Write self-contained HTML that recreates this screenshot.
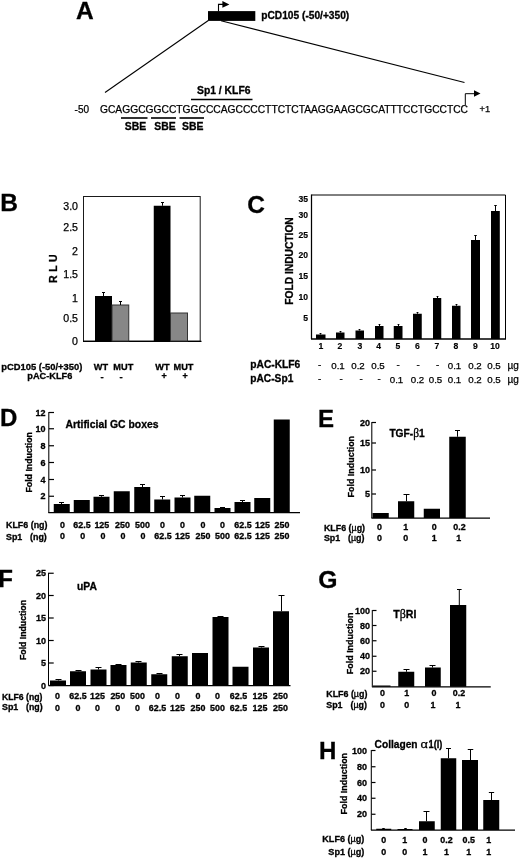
<!DOCTYPE html>
<html><head><meta charset="utf-8"><title>Figure</title>
<style>
html,body{margin:0;padding:0;background:#fff;}
body{width:520px;height:858px;overflow:hidden;}
svg{display:block;}
svg text{font-family:"Liberation Sans",Arial,sans-serif;fill:#000;stroke:#000;stroke-width:0.25px;}
svg text[font-weight=bold]{stroke-width:0.3px;}
</style></head><body>
<svg width="520" height="858" viewBox="0 0 520 858">
<rect width="520" height="858" fill="#fff"/>
<text transform="translate(76,18.6) scale(1.0,1)" font-size="24.5" font-weight="bold" text-anchor="start">A</text>
<rect x="208" y="11.1" width="47.3" height="9.8" fill="#000"/>
<path d="M218.5 11.5 V4.4 H223" fill="none" stroke="#000" stroke-width="1.1"/>
<path d="M222.4 1 L229.4 4.4 L222.4 7.8 Z" fill="#000"/>
<text x="261.25" y="19" font-size="10.2" font-weight="bold" text-anchor="start" textLength="88" lengthAdjust="spacingAndGlyphs">pCD105 (-50/+350)</text>
<line x1="208.3" y1="20.5" x2="105" y2="92.5" stroke="#000" stroke-width="1.1"/>
<line x1="221" y1="20.7" x2="464.5" y2="82.5" stroke="#000" stroke-width="1.1"/>
<text transform="translate(74.6,113.2) scale(1.0,1)" font-size="10"  text-anchor="start">-50</text>
<text x="100" y="113.1" font-size="10.25"  text-anchor="start" textLength="368" lengthAdjust="spacingAndGlyphs">GCAGGCGGCCTGGCCCAGCCCCTTCTCTAAGGAAGCGCATTTCCTGCCTCC</text>
<text transform="translate(479.6,112.4) scale(1.0,1)" font-size="9.3"  text-anchor="start">+1</text>
<path d="M465.3 105 V93.7 H475" fill="none" stroke="#000" stroke-width="1"/>
<path d="M474 90.2 L480.5 93.5 L474 96.8 Z" fill="#000"/>
<text x="197" y="94" font-size="10.3" font-weight="bold" text-anchor="start" textLength="53.5" lengthAdjust="spacingAndGlyphs">Sp1 / KLF6</text>
<line x1="191" y1="99.5" x2="252.5" y2="99.5" stroke="#000" stroke-width="1.6"/>
<line x1="121" y1="118" x2="147.5" y2="118" stroke="#000" stroke-width="1.6"/>
<line x1="151" y1="118" x2="176" y2="118" stroke="#000" stroke-width="1.6"/>
<line x1="179.5" y1="118" x2="204" y2="118" stroke="#000" stroke-width="1.6"/>
<text transform="translate(135.5,129.7) scale(1.0,1)" font-size="10.4" font-weight="bold" text-anchor="middle">SBE</text>
<text transform="translate(165,129.7) scale(1.0,1)" font-size="10.4" font-weight="bold" text-anchor="middle">SBE</text>
<text transform="translate(192.8,129.7) scale(1.0,1)" font-size="10.4" font-weight="bold" text-anchor="middle">SBE</text>
<text transform="translate(0.3,211.3) scale(1.0,1)" font-size="24.5" font-weight="bold" text-anchor="start">B</text>
<rect x="83.5" y="196.5" width="116.7" height="144.7" fill="none" stroke="#1a1a1a" stroke-width="1.0"/>
<line x1="83" y1="341.3" x2="201.5" y2="341.3" stroke="#000" stroke-width="1.3"/>
<text transform="translate(78,209.5) scale(1.0,1)" font-size="10.6"  text-anchor="end">3.0</text>
<text transform="translate(78,230.5) scale(1.0,1)" font-size="10.6"  text-anchor="end">2.5</text>
<text transform="translate(78,255) scale(1.0,1)" font-size="10.6"  text-anchor="end">2</text>
<text transform="translate(78,278) scale(1.0,1)" font-size="10.6"  text-anchor="end">1.5</text>
<text transform="translate(78,301.5) scale(1.0,1)" font-size="10.6"  text-anchor="end">1</text>
<text transform="translate(78,321.5) scale(1.0,1)" font-size="10.6"  text-anchor="end">0.5</text>
<text transform="translate(78,344.5) scale(1.0,1)" font-size="10.6"  text-anchor="end">0</text>
<text transform="translate(57.3,268.7) rotate(-90)" font-size="10.5" font-weight="bold" text-anchor="middle" textLength="28.5" lengthAdjust="spacing">R L U</text>
<rect x="95" y="296" width="17" height="45" fill="#000"/>
<line x1="103.5" y1="296" x2="103.5" y2="292.0" stroke="#000" stroke-width="1"/>
<line x1="102.0" y1="292.5" x2="105.0" y2="292.5" stroke="#000" stroke-width="1"/>
<rect x="112" y="305" width="16.75" height="36" fill="#878787" stroke="#333" stroke-width="1"/>
<line x1="120.5" y1="305" x2="120.5" y2="301.0" stroke="#000" stroke-width="1"/>
<line x1="119.0" y1="301.5" x2="122.0" y2="301.5" stroke="#000" stroke-width="1"/>
<rect x="153.75" y="205.75" width="16.75" height="135.25" fill="#000"/>
<line x1="162.5" y1="205.75" x2="162.5" y2="202.0" stroke="#000" stroke-width="1"/>
<line x1="161.0" y1="202.5" x2="164.0" y2="202.5" stroke="#000" stroke-width="1"/>
<rect x="170.5" y="313" width="17.0" height="28" fill="#878787" stroke="#333" stroke-width="1"/>
<text x="1.3" y="369.7" font-size="9.4" font-weight="bold" text-anchor="start" textLength="81" lengthAdjust="spacingAndGlyphs">pCD105 (-50/+350)</text>
<text x="27.3" y="379.2" font-size="9.4" font-weight="bold" text-anchor="start" textLength="45" lengthAdjust="spacingAndGlyphs">pAC-KLF6</text>
<text transform="translate(101,369.6) scale(1.0,1)" font-size="9.2" font-weight="bold" text-anchor="middle">WT</text>
<text transform="translate(123.3,369.6) scale(1.0,1)" font-size="9.2" font-weight="bold" text-anchor="middle">MUT</text>
<text transform="translate(162.5,369.6) scale(1.0,1)" font-size="9.2" font-weight="bold" text-anchor="middle">WT</text>
<text transform="translate(183.5,369.6) scale(1.0,1)" font-size="9.2" font-weight="bold" text-anchor="middle">MUT</text>
<text transform="translate(102,379.8) scale(1.0,1)" font-size="9.5" font-weight="bold" text-anchor="middle">-</text>
<text transform="translate(121,379.8) scale(1.0,1)" font-size="9.5" font-weight="bold" text-anchor="middle">-</text>
<text transform="translate(164,379.3) scale(1.0,1)" font-size="9" font-weight="bold" text-anchor="middle">+</text>
<text transform="translate(185,379.3) scale(1.0,1)" font-size="9" font-weight="bold" text-anchor="middle">+</text>
<text transform="translate(247.3,213) scale(1.0,1)" font-size="24.5" font-weight="bold" text-anchor="start">C</text>
<path d="M311.5 195 H505.5 V339" fill="none" stroke="#000" stroke-width="1"/>
<line x1="311.5" y1="194.5" x2="311.5" y2="339" stroke="#000" stroke-width="1.25"/>
<line x1="311" y1="339" x2="506" y2="339" stroke="#000" stroke-width="1.35"/>
<text transform="translate(308,202) scale(1.0,1)" font-size="8.6" font-weight="bold" style="stroke-width:0.15px" text-anchor="end">35</text>
<text transform="translate(308,217.5) scale(1.0,1)" font-size="8.6" font-weight="bold" style="stroke-width:0.15px" text-anchor="end">30</text>
<text transform="translate(308,238) scale(1.0,1)" font-size="8.6" font-weight="bold" style="stroke-width:0.15px" text-anchor="end">25</text>
<text transform="translate(308,258) scale(1.0,1)" font-size="8.6" font-weight="bold" style="stroke-width:0.15px" text-anchor="end">20</text>
<text transform="translate(308,279) scale(1.0,1)" font-size="8.6" font-weight="bold" style="stroke-width:0.15px" text-anchor="end">15</text>
<text transform="translate(308,300) scale(1.0,1)" font-size="8.6" font-weight="bold" style="stroke-width:0.15px" text-anchor="end">10</text>
<text transform="translate(308,320.5) scale(1.0,1)" font-size="8.6" font-weight="bold" style="stroke-width:0.15px" text-anchor="end">5</text>
<text transform="translate(293,261) rotate(-90)" font-size="10" font-weight="bold" text-anchor="middle" textLength="87.5" lengthAdjust="spacingAndGlyphs">FOLD INDUCTION</text>
<rect x="316" y="334.5" width="9.5" height="4.5" fill="#000"/>
<line x1="320.5" y1="334.5" x2="320.5" y2="333.0" stroke="#000" stroke-width="1"/>
<line x1="319.6" y1="333.5" x2="321.4" y2="333.5" stroke="#000" stroke-width="1"/>
<rect x="336" y="332.5" width="8.5" height="6.5" fill="#000"/>
<line x1="340.5" y1="332.5" x2="340.5" y2="331.0" stroke="#000" stroke-width="1"/>
<line x1="339.6" y1="331.5" x2="341.4" y2="331.5" stroke="#000" stroke-width="1"/>
<rect x="355.5" y="330.5" width="8.5" height="8.5" fill="#000"/>
<line x1="359.5" y1="330.5" x2="359.5" y2="329.0" stroke="#000" stroke-width="1"/>
<line x1="358.6" y1="329.5" x2="360.4" y2="329.5" stroke="#000" stroke-width="1"/>
<rect x="375" y="326" width="8.5" height="13" fill="#000"/>
<line x1="379.5" y1="326" x2="379.5" y2="324.0" stroke="#000" stroke-width="1"/>
<line x1="378.6" y1="324.5" x2="380.4" y2="324.5" stroke="#000" stroke-width="1"/>
<rect x="393.75" y="326" width="8.75" height="13" fill="#000"/>
<line x1="398.5" y1="326" x2="398.5" y2="324.0" stroke="#000" stroke-width="1"/>
<line x1="397.6" y1="324.5" x2="399.4" y2="324.5" stroke="#000" stroke-width="1"/>
<rect x="413" y="313.75" width="8.75" height="25.25" fill="#000"/>
<line x1="417.5" y1="313.75" x2="417.5" y2="312.0" stroke="#000" stroke-width="1"/>
<line x1="416.6" y1="312.5" x2="418.4" y2="312.5" stroke="#000" stroke-width="1"/>
<rect x="433" y="298" width="8.25" height="41" fill="#000"/>
<line x1="437.5" y1="298" x2="437.5" y2="296.0" stroke="#000" stroke-width="1"/>
<line x1="436.6" y1="296.5" x2="438.4" y2="296.5" stroke="#000" stroke-width="1"/>
<rect x="452" y="305.75" width="8.5" height="33.25" fill="#000"/>
<line x1="456.5" y1="305.75" x2="456.5" y2="304.0" stroke="#000" stroke-width="1"/>
<line x1="455.6" y1="304.5" x2="457.4" y2="304.5" stroke="#000" stroke-width="1"/>
<rect x="471" y="240" width="9" height="99" fill="#000"/>
<line x1="475.5" y1="240" x2="475.5" y2="235.0" stroke="#000" stroke-width="1"/>
<line x1="474.25" y1="235.5" x2="476.75" y2="235.5" stroke="#000" stroke-width="1"/>
<rect x="491" y="211" width="8.800000000000011" height="128" fill="#000"/>
<line x1="495.5" y1="211" x2="495.5" y2="205.0" stroke="#000" stroke-width="1"/>
<line x1="494.25" y1="205.5" x2="496.75" y2="205.5" stroke="#000" stroke-width="1"/>
<text transform="translate(321,349.4) scale(1.0,1)" font-size="8.6" font-weight="bold" style="stroke-width:0.15px" text-anchor="middle">1</text>
<text transform="translate(340,349.4) scale(1.0,1)" font-size="8.6" font-weight="bold" style="stroke-width:0.15px" text-anchor="middle">2</text>
<text transform="translate(360,349.4) scale(1.0,1)" font-size="8.6" font-weight="bold" style="stroke-width:0.15px" text-anchor="middle">3</text>
<text transform="translate(378.75,349.4) scale(1.0,1)" font-size="8.6" font-weight="bold" style="stroke-width:0.15px" text-anchor="middle">4</text>
<text transform="translate(398,349.4) scale(1.0,1)" font-size="8.6" font-weight="bold" style="stroke-width:0.15px" text-anchor="middle">5</text>
<text transform="translate(417.5,349.4) scale(1.0,1)" font-size="8.6" font-weight="bold" style="stroke-width:0.15px" text-anchor="middle">6</text>
<text transform="translate(437,349.4) scale(1.0,1)" font-size="8.6" font-weight="bold" style="stroke-width:0.15px" text-anchor="middle">7</text>
<text transform="translate(456,349.4) scale(1.0,1)" font-size="8.6" font-weight="bold" style="stroke-width:0.15px" text-anchor="middle">8</text>
<text transform="translate(475.5,349.4) scale(1.0,1)" font-size="8.6" font-weight="bold" style="stroke-width:0.15px" text-anchor="middle">9</text>
<text transform="translate(495,349.4) scale(1.0,1)" font-size="8.6" font-weight="bold" style="stroke-width:0.15px" text-anchor="middle">10</text>
<text x="250.3" y="367.8" font-size="10.1" font-weight="bold" text-anchor="start" textLength="50" lengthAdjust="spacingAndGlyphs">pAC-KLF6</text>
<text x="250.3" y="381.7" font-size="10.1" font-weight="bold" text-anchor="start" textLength="43" lengthAdjust="spacingAndGlyphs">pAC-Sp1</text>
<text transform="translate(319.5,368.2) scale(1.0,1)" font-size="9.7"  text-anchor="middle">-</text>
<text transform="translate(338,368.75) scale(1.0,1)" font-size="9.7"  text-anchor="middle">0.1</text>
<text transform="translate(358,368.75) scale(1.0,1)" font-size="9.7"  text-anchor="middle">0.2</text>
<text transform="translate(378,368.75) scale(1.0,1)" font-size="9.7"  text-anchor="middle">0.5</text>
<text transform="translate(398,368.2) scale(1.0,1)" font-size="9.7"  text-anchor="middle">-</text>
<text transform="translate(418,368.2) scale(1.0,1)" font-size="9.7"  text-anchor="middle">-</text>
<text transform="translate(437.5,368.2) scale(1.0,1)" font-size="9.7"  text-anchor="middle">-</text>
<text transform="translate(454.5,368.75) scale(1.0,1)" font-size="9.7"  text-anchor="middle">0.1</text>
<text transform="translate(475,368.75) scale(1.0,1)" font-size="9.7"  text-anchor="middle">0.2</text>
<text transform="translate(494,368.75) scale(1.0,1)" font-size="9.7"  text-anchor="middle">0.5</text>
<text transform="translate(319.5,381.9) scale(1.0,1)" font-size="9.7"  text-anchor="middle">-</text>
<text transform="translate(341,381.9) scale(1.0,1)" font-size="9.7"  text-anchor="middle">-</text>
<text transform="translate(361,381.9) scale(1.0,1)" font-size="9.7"  text-anchor="middle">-</text>
<text transform="translate(379,381.9) scale(1.0,1)" font-size="9.7"  text-anchor="middle">-</text>
<text transform="translate(396.5,382.5) scale(1.0,1)" font-size="9.7"  text-anchor="middle">0.1</text>
<text transform="translate(417.5,382.5) scale(1.0,1)" font-size="9.7"  text-anchor="middle">0.2</text>
<text transform="translate(435.5,382.5) scale(1.0,1)" font-size="9.7"  text-anchor="middle">0.5</text>
<text transform="translate(454.5,382.5) scale(1.0,1)" font-size="9.7"  text-anchor="middle">0.1</text>
<text transform="translate(475,382.5) scale(1.0,1)" font-size="9.7"  text-anchor="middle">0.2</text>
<text transform="translate(494,382.5) scale(1.0,1)" font-size="9.7"  text-anchor="middle">0.5</text>
<text transform="translate(507.5,368.75) scale(1.0,1)" font-size="10"  text-anchor="start">µg</text>
<text transform="translate(507.5,382.5) scale(1.0,1)" font-size="10"  text-anchor="start">µg</text>
<text transform="translate(-0.1,426.3) scale(1.0,1)" font-size="24" font-weight="bold" text-anchor="start">D</text>
<line x1="48.8" y1="412.0" x2="48.8" y2="513" stroke="#000" stroke-width="1.05"/>
<line x1="49" y1="412.5" x2="54" y2="412.5" stroke="#000" stroke-width="1.2"/>
<text transform="translate(45.5,415.5) scale(1.0,1)" font-size="9" font-weight="bold" text-anchor="end">12</text>
<line x1="49" y1="428.75" x2="54" y2="428.75" stroke="#000" stroke-width="1.2"/>
<text transform="translate(45.5,431.75) scale(1.0,1)" font-size="9" font-weight="bold" text-anchor="end">10</text>
<line x1="49" y1="445.75" x2="54" y2="445.75" stroke="#000" stroke-width="1.2"/>
<text transform="translate(45.5,448.75) scale(1.0,1)" font-size="9" font-weight="bold" text-anchor="end">8</text>
<line x1="49" y1="462.5" x2="54" y2="462.5" stroke="#000" stroke-width="1.2"/>
<text transform="translate(45.5,465.5) scale(1.0,1)" font-size="9" font-weight="bold" text-anchor="end">6</text>
<line x1="49" y1="479.5" x2="54" y2="479.5" stroke="#000" stroke-width="1.2"/>
<text transform="translate(45.5,482.5) scale(1.0,1)" font-size="9" font-weight="bold" text-anchor="end">4</text>
<line x1="49" y1="496.25" x2="54" y2="496.25" stroke="#000" stroke-width="1.2"/>
<text transform="translate(45.5,499.25) scale(1.0,1)" font-size="9" font-weight="bold" text-anchor="end">2</text>
<line x1="48.4" y1="512.7" x2="300" y2="512.7" stroke="#000" stroke-width="1.25"/>
<text transform="translate(31.8,462.3) rotate(-90)" font-size="8.8" font-weight="bold" text-anchor="middle" textLength="60.5" lengthAdjust="spacingAndGlyphs">Fold Induction</text>
<text x="65.5" y="427.5" font-size="10.4" font-weight="bold" text-anchor="start" textLength="93" lengthAdjust="spacingAndGlyphs">Artificial GC boxes</text>
<rect x="53.75" y="504" width="16.0" height="9" fill="#000"/>
<line x1="61.5" y1="504" x2="61.5" y2="502.0" stroke="#000" stroke-width="1"/>
<line x1="59.0" y1="502.5" x2="64.0" y2="502.5" stroke="#000" stroke-width="1"/>
<rect x="73.75" y="500" width="16.0" height="13" fill="#000"/>
<rect x="93.5" y="496.75" width="16.0" height="16.25" fill="#000"/>
<line x1="101.5" y1="496.75" x2="101.5" y2="495.0" stroke="#000" stroke-width="1"/>
<line x1="99.0" y1="495.5" x2="104.0" y2="495.5" stroke="#000" stroke-width="1"/>
<rect x="113.75" y="491.25" width="16.0" height="21.75" fill="#000"/>
<rect x="134.25" y="487" width="16.0" height="26" fill="#000"/>
<line x1="142.5" y1="487" x2="142.5" y2="484.0" stroke="#000" stroke-width="1"/>
<line x1="140.0" y1="484.5" x2="145.0" y2="484.5" stroke="#000" stroke-width="1"/>
<rect x="154.25" y="499.5" width="16.0" height="13.5" fill="#000"/>
<line x1="162.5" y1="499.5" x2="162.5" y2="496.0" stroke="#000" stroke-width="1"/>
<line x1="160.0" y1="496.5" x2="165.0" y2="496.5" stroke="#000" stroke-width="1"/>
<rect x="174.5" y="497.5" width="16.0" height="15.5" fill="#000"/>
<line x1="182.5" y1="497.5" x2="182.5" y2="495.0" stroke="#000" stroke-width="1"/>
<line x1="180.0" y1="495.5" x2="185.0" y2="495.5" stroke="#000" stroke-width="1"/>
<rect x="194.25" y="495.75" width="16.0" height="17.25" fill="#000"/>
<rect x="214.5" y="508" width="16.0" height="5" fill="#000"/>
<line x1="222.5" y1="508" x2="222.5" y2="507.0" stroke="#000" stroke-width="1"/>
<line x1="220.0" y1="507.5" x2="225.0" y2="507.5" stroke="#000" stroke-width="1"/>
<rect x="234.5" y="502" width="16.0" height="11" fill="#000"/>
<line x1="242.5" y1="502" x2="242.5" y2="500.0" stroke="#000" stroke-width="1"/>
<line x1="240.0" y1="500.5" x2="245.0" y2="500.5" stroke="#000" stroke-width="1"/>
<rect x="254.25" y="498" width="16.0" height="15" fill="#000"/>
<rect x="273.75" y="419.5" width="16.0" height="93.5" fill="#000"/>
<text x="6" y="528.3" font-size="8.9" font-weight="bold" text-anchor="start" textLength="41.5" lengthAdjust="spacingAndGlyphs">KLF6 (ng)</text>
<text transform="translate(6,539.6) scale(1.0,1)" font-size="8.9" font-weight="bold" text-anchor="start">Sp1</text>
<text transform="translate(30,539.6) scale(1.0,1)" font-size="8.9" font-weight="bold" text-anchor="start">(ng)</text>
<text transform="translate(62.5,527.8) scale(1.0,1)" font-size="8.9" font-weight="bold" text-anchor="middle">0</text>
<text transform="translate(62.5,539.4) scale(1.0,1)" font-size="8.9" font-weight="bold" text-anchor="middle">0</text>
<text transform="translate(82,527.8) scale(1.0,1)" font-size="8.9" font-weight="bold" text-anchor="middle">62.5</text>
<text transform="translate(82.7,539.4) scale(1.0,1)" font-size="8.9" font-weight="bold" text-anchor="middle">0</text>
<text transform="translate(101.8,527.8) scale(1.0,1)" font-size="8.9" font-weight="bold" text-anchor="middle">125</text>
<text transform="translate(103,539.4) scale(1.0,1)" font-size="8.9" font-weight="bold" text-anchor="middle">0</text>
<text transform="translate(122.5,527.8) scale(1.0,1)" font-size="8.9" font-weight="bold" text-anchor="middle">250</text>
<text transform="translate(123,539.4) scale(1.0,1)" font-size="8.9" font-weight="bold" text-anchor="middle">0</text>
<text transform="translate(142.5,527.8) scale(1.0,1)" font-size="8.9" font-weight="bold" text-anchor="middle">500</text>
<text transform="translate(143,539.4) scale(1.0,1)" font-size="8.9" font-weight="bold" text-anchor="middle">0</text>
<text transform="translate(162.5,527.8) scale(1.0,1)" font-size="8.9" font-weight="bold" text-anchor="middle">0</text>
<text transform="translate(163,539.4) scale(1.0,1)" font-size="8.9" font-weight="bold" text-anchor="middle">62.5</text>
<text transform="translate(182.5,527.8) scale(1.0,1)" font-size="8.9" font-weight="bold" text-anchor="middle">0</text>
<text transform="translate(182.5,539.4) scale(1.0,1)" font-size="8.9" font-weight="bold" text-anchor="middle">125</text>
<text transform="translate(203,527.8) scale(1.0,1)" font-size="8.9" font-weight="bold" text-anchor="middle">0</text>
<text transform="translate(203,539.4) scale(1.0,1)" font-size="8.9" font-weight="bold" text-anchor="middle">250</text>
<text transform="translate(222.5,527.8) scale(1.0,1)" font-size="8.9" font-weight="bold" text-anchor="middle">0</text>
<text transform="translate(222.5,539.4) scale(1.0,1)" font-size="8.9" font-weight="bold" text-anchor="middle">500</text>
<text transform="translate(243,527.8) scale(1.0,1)" font-size="8.9" font-weight="bold" text-anchor="middle">62.5</text>
<text transform="translate(243,539.4) scale(1.0,1)" font-size="8.9" font-weight="bold" text-anchor="middle">62.5</text>
<text transform="translate(262.5,527.8) scale(1.0,1)" font-size="8.9" font-weight="bold" text-anchor="middle">125</text>
<text transform="translate(262.5,539.4) scale(1.0,1)" font-size="8.9" font-weight="bold" text-anchor="middle">125</text>
<text transform="translate(282,527.8) scale(1.0,1)" font-size="8.9" font-weight="bold" text-anchor="middle">250</text>
<text transform="translate(282,539.4) scale(1.0,1)" font-size="8.9" font-weight="bold" text-anchor="middle">250</text>
<text transform="translate(318,426.6) scale(1.0,1)" font-size="24" font-weight="bold" text-anchor="start">E</text>
<line x1="371.8" y1="422.0" x2="371.8" y2="518" stroke="#000" stroke-width="1.05"/>
<line x1="372" y1="422.5" x2="376" y2="422.5" stroke="#000" stroke-width="1.2"/>
<text transform="translate(370,425.5) scale(1.0,1)" font-size="9" font-weight="bold" text-anchor="end">20</text>
<line x1="372" y1="443" x2="376" y2="443" stroke="#000" stroke-width="1.2"/>
<text transform="translate(370,446) scale(1.0,1)" font-size="9" font-weight="bold" text-anchor="end">15</text>
<line x1="372" y1="470" x2="376" y2="470" stroke="#000" stroke-width="1.2"/>
<text transform="translate(370,473) scale(1.0,1)" font-size="9" font-weight="bold" text-anchor="end">10</text>
<line x1="372" y1="494" x2="376" y2="494" stroke="#000" stroke-width="1.2"/>
<text transform="translate(370,497) scale(1.0,1)" font-size="9" font-weight="bold" text-anchor="end">5</text>
<line x1="371.4" y1="518" x2="490" y2="518" stroke="#000" stroke-width="1.25"/>
<text transform="translate(353.8,466.7) rotate(-90)" font-size="9" font-weight="bold" text-anchor="middle" textLength="61.5" lengthAdjust="spacingAndGlyphs">Fold Induction</text>
<text transform="translate(389.4,436.7) scale(1.0,1)" font-size="10.2" font-weight="bold" text-anchor="start">TGF-<tspan font-family="Liberation Serif, DejaVu Serif, serif" font-weight="normal" font-size="11.5">β</tspan>1</text>
<rect x="372.5" y="513" width="16.25" height="5" fill="#000"/>
<rect x="398" y="501.25" width="16.25" height="16.75" fill="#000"/>
<line x1="406.5" y1="501.25" x2="406.5" y2="494.0" stroke="#000" stroke-width="1"/>
<line x1="403.5" y1="494.5" x2="409.5" y2="494.5" stroke="#000" stroke-width="1"/>
<rect x="423.75" y="508.75" width="16.25" height="9.25" fill="#000"/>
<rect x="449.25" y="436.75" width="16.5" height="81.25" fill="#000"/>
<line x1="457.5" y1="436.75" x2="457.5" y2="430.0" stroke="#000" stroke-width="1"/>
<line x1="455.0" y1="430.5" x2="460.0" y2="430.5" stroke="#000" stroke-width="1"/>
<text transform="translate(323.9,530.5) scale(1.0,1)" font-size="8.9" font-weight="bold" text-anchor="start">KLF6 (<tspan font-weight="normal">µ</tspan>g)</text>
<text transform="translate(323.9,540.5) scale(1.0,1)" font-size="8.9" font-weight="bold" text-anchor="start">Sp1</text>
<text transform="translate(348,540.5) scale(1.0,1)" font-size="8.9" font-weight="bold" text-anchor="start">(<tspan font-weight="normal">µ</tspan>g)</text>
<text transform="translate(379.5,530) scale(1.0,1)" font-size="8.9" font-weight="bold" text-anchor="middle">0</text>
<text transform="translate(379.5,540.5) scale(1.0,1)" font-size="8.9" font-weight="bold" text-anchor="middle">0</text>
<text transform="translate(405.75,530) scale(1.0,1)" font-size="8.9" font-weight="bold" text-anchor="middle">1</text>
<text transform="translate(405.75,540.5) scale(1.0,1)" font-size="8.9" font-weight="bold" text-anchor="middle">0</text>
<text transform="translate(434.25,530) scale(1.0,1)" font-size="8.9" font-weight="bold" text-anchor="middle">0</text>
<text transform="translate(434.25,540.5) scale(1.0,1)" font-size="8.9" font-weight="bold" text-anchor="middle">1</text>
<text transform="translate(459.5,530) scale(1.0,1)" font-size="8.9" font-weight="bold" text-anchor="middle">0.2</text>
<text transform="translate(458.75,540.5) scale(1.0,1)" font-size="8.9" font-weight="bold" text-anchor="middle">1</text>
<text transform="translate(-1.8,587) scale(1.0,1)" font-size="24" font-weight="bold" text-anchor="start">F</text>
<line x1="48.5" y1="572.75" x2="48.5" y2="685.5" stroke="#000" stroke-width="1.05"/>
<line x1="48.7" y1="573.25" x2="53.7" y2="573.25" stroke="#000" stroke-width="1.2"/>
<text transform="translate(46,576.25) scale(1.0,1)" font-size="9" font-weight="bold" text-anchor="end">25</text>
<line x1="48.7" y1="595.5" x2="53.7" y2="595.5" stroke="#000" stroke-width="1.2"/>
<text transform="translate(46,598.5) scale(1.0,1)" font-size="9" font-weight="bold" text-anchor="end">20</text>
<line x1="48.7" y1="618" x2="53.7" y2="618" stroke="#000" stroke-width="1.2"/>
<text transform="translate(46,621) scale(1.0,1)" font-size="9" font-weight="bold" text-anchor="end">15</text>
<line x1="48.7" y1="640.5" x2="53.7" y2="640.5" stroke="#000" stroke-width="1.2"/>
<text transform="translate(46,643.5) scale(1.0,1)" font-size="9" font-weight="bold" text-anchor="end">10</text>
<line x1="48.7" y1="663" x2="53.7" y2="663" stroke="#000" stroke-width="1.2"/>
<text transform="translate(46,666) scale(1.0,1)" font-size="9" font-weight="bold" text-anchor="end">5</text>
<line x1="48.7" y1="685.5" x2="53.7" y2="685.5" stroke="#000" stroke-width="1.2"/>
<text transform="translate(46,688.5) scale(1.0,1)" font-size="9" font-weight="bold" text-anchor="end">0</text>
<line x1="48.4" y1="685.6" x2="290.5" y2="685.6" stroke="#000" stroke-width="1.25"/>
<text transform="translate(26.4,630) rotate(-90)" font-size="8.8" font-weight="bold" text-anchor="middle" textLength="60" lengthAdjust="spacingAndGlyphs">Fold Induction</text>
<text transform="translate(77,589.5) scale(1.0,1)" font-size="10.3" font-weight="bold" text-anchor="start">uPA</text>
<rect x="50" y="680.5" width="16" height="5.0" fill="#000"/>
<line x1="58.5" y1="680.5" x2="58.5" y2="679.0" stroke="#000" stroke-width="1"/>
<line x1="55.5" y1="679.5" x2="61.5" y2="679.5" stroke="#000" stroke-width="1"/>
<rect x="70" y="671.25" width="16" height="14.25" fill="#000"/>
<line x1="78.5" y1="671.25" x2="78.5" y2="670.0" stroke="#000" stroke-width="1"/>
<line x1="75.5" y1="670.5" x2="81.5" y2="670.5" stroke="#000" stroke-width="1"/>
<rect x="90.5" y="669.5" width="16.0" height="16.0" fill="#000"/>
<line x1="98.5" y1="669.5" x2="98.5" y2="667.0" stroke="#000" stroke-width="1"/>
<line x1="95.5" y1="667.5" x2="101.5" y2="667.5" stroke="#000" stroke-width="1"/>
<rect x="110.5" y="665" width="16.0" height="20.5" fill="#000"/>
<line x1="118.5" y1="665" x2="118.5" y2="664.0" stroke="#000" stroke-width="1"/>
<line x1="115.5" y1="664.5" x2="121.5" y2="664.5" stroke="#000" stroke-width="1"/>
<rect x="130.75" y="662.5" width="16.0" height="23.0" fill="#000"/>
<line x1="138.5" y1="662.5" x2="138.5" y2="661.0" stroke="#000" stroke-width="1"/>
<line x1="135.5" y1="661.5" x2="141.5" y2="661.5" stroke="#000" stroke-width="1"/>
<rect x="151.25" y="674.25" width="16.0" height="11.25" fill="#000"/>
<line x1="159.5" y1="674.25" x2="159.5" y2="673.0" stroke="#000" stroke-width="1"/>
<line x1="156.5" y1="673.5" x2="162.5" y2="673.5" stroke="#000" stroke-width="1"/>
<rect x="171.75" y="656.25" width="16.0" height="29.25" fill="#000"/>
<line x1="179.5" y1="656.25" x2="179.5" y2="654.0" stroke="#000" stroke-width="1"/>
<line x1="176.5" y1="654.5" x2="182.5" y2="654.5" stroke="#000" stroke-width="1"/>
<rect x="192" y="653" width="16" height="32.5" fill="#000"/>
<rect x="212.5" y="617" width="16.0" height="68.5" fill="#000"/>
<line x1="220.5" y1="617" x2="220.5" y2="616.0" stroke="#000" stroke-width="1"/>
<line x1="217.5" y1="616.5" x2="223.5" y2="616.5" stroke="#000" stroke-width="1"/>
<rect x="232.5" y="666.75" width="16.0" height="18.75" fill="#000"/>
<rect x="253" y="647.5" width="16" height="38.0" fill="#000"/>
<line x1="261.5" y1="647.5" x2="261.5" y2="646.0" stroke="#000" stroke-width="1"/>
<line x1="258.5" y1="646.5" x2="264.5" y2="646.5" stroke="#000" stroke-width="1"/>
<rect x="273" y="611.25" width="16" height="74.25" fill="#000"/>
<line x1="281.5" y1="611.25" x2="281.5" y2="595.0" stroke="#000" stroke-width="1"/>
<line x1="278.5" y1="595.5" x2="284.5" y2="595.5" stroke="#000" stroke-width="1"/>
<text x="2" y="700" font-size="8.8" font-weight="bold" text-anchor="start" textLength="40.5" lengthAdjust="spacingAndGlyphs">KLF6 (ng)</text>
<text transform="translate(2,710.2) scale(1.0,1)" font-size="8.9" font-weight="bold" text-anchor="start">Sp1</text>
<text transform="translate(26,710.2) scale(1.0,1)" font-size="8.8" font-weight="bold" text-anchor="start">(ng)</text>
<text transform="translate(57.5,699.2) scale(1.0,1)" font-size="8.9" font-weight="bold" text-anchor="middle">0</text>
<text transform="translate(57.5,710.6) scale(1.0,1)" font-size="8.9" font-weight="bold" text-anchor="middle">0</text>
<text transform="translate(78,699.2) scale(1.0,1)" font-size="8.9" font-weight="bold" text-anchor="middle">62.5</text>
<text transform="translate(78,710.6) scale(1.0,1)" font-size="8.9" font-weight="bold" text-anchor="middle">0</text>
<text transform="translate(97.5,699.2) scale(1.0,1)" font-size="8.9" font-weight="bold" text-anchor="middle">125</text>
<text transform="translate(97.5,710.6) scale(1.0,1)" font-size="8.9" font-weight="bold" text-anchor="middle">0</text>
<text transform="translate(117.8,699.2) scale(1.0,1)" font-size="8.9" font-weight="bold" text-anchor="middle">250</text>
<text transform="translate(117.8,710.6) scale(1.0,1)" font-size="8.9" font-weight="bold" text-anchor="middle">0</text>
<text transform="translate(137.5,699.2) scale(1.0,1)" font-size="8.9" font-weight="bold" text-anchor="middle">500</text>
<text transform="translate(137.5,710.6) scale(1.0,1)" font-size="8.9" font-weight="bold" text-anchor="middle">0</text>
<text transform="translate(157.5,699.2) scale(1.0,1)" font-size="8.9" font-weight="bold" text-anchor="middle">0</text>
<text transform="translate(157.5,710.6) scale(1.0,1)" font-size="8.9" font-weight="bold" text-anchor="middle">62.5</text>
<text transform="translate(177.5,699.2) scale(1.0,1)" font-size="8.9" font-weight="bold" text-anchor="middle">0</text>
<text transform="translate(177.5,710.6) scale(1.0,1)" font-size="8.9" font-weight="bold" text-anchor="middle">125</text>
<text transform="translate(198,699.2) scale(1.0,1)" font-size="8.9" font-weight="bold" text-anchor="middle">0</text>
<text transform="translate(198,710.6) scale(1.0,1)" font-size="8.9" font-weight="bold" text-anchor="middle">250</text>
<text transform="translate(217.5,699.2) scale(1.0,1)" font-size="8.9" font-weight="bold" text-anchor="middle">0</text>
<text transform="translate(217.5,710.6) scale(1.0,1)" font-size="8.9" font-weight="bold" text-anchor="middle">500</text>
<text transform="translate(238.5,699.2) scale(1.0,1)" font-size="8.9" font-weight="bold" text-anchor="middle">62.5</text>
<text transform="translate(238.5,710.6) scale(1.0,1)" font-size="8.9" font-weight="bold" text-anchor="middle">62.5</text>
<text transform="translate(260,699.2) scale(1.0,1)" font-size="8.9" font-weight="bold" text-anchor="middle">125</text>
<text transform="translate(260,710.6) scale(1.0,1)" font-size="8.9" font-weight="bold" text-anchor="middle">125</text>
<text transform="translate(280.5,699.2) scale(1.0,1)" font-size="8.9" font-weight="bold" text-anchor="middle">250</text>
<text transform="translate(280.5,710.6) scale(1.0,1)" font-size="8.9" font-weight="bold" text-anchor="middle">250</text>
<text transform="translate(318.3,588.4) scale(1.0,1)" font-size="24.7" font-weight="bold" text-anchor="start">G</text>
<line x1="372.3" y1="610.0" x2="372.3" y2="686.75" stroke="#000" stroke-width="1.05"/>
<line x1="372.5" y1="610.5" x2="376.5" y2="610.5" stroke="#000" stroke-width="1.2"/>
<text transform="translate(370,613.5) scale(1.0,1)" font-size="9" font-weight="bold" text-anchor="end">100</text>
<line x1="372.5" y1="625.5" x2="376.5" y2="625.5" stroke="#000" stroke-width="1.2"/>
<text transform="translate(370,628.5) scale(1.0,1)" font-size="9" font-weight="bold" text-anchor="end">80</text>
<line x1="372.5" y1="640.75" x2="376.5" y2="640.75" stroke="#000" stroke-width="1.2"/>
<text transform="translate(370,643.75) scale(1.0,1)" font-size="9" font-weight="bold" text-anchor="end">60</text>
<line x1="372.5" y1="656.25" x2="376.5" y2="656.25" stroke="#000" stroke-width="1.2"/>
<text transform="translate(370,659.25) scale(1.0,1)" font-size="9" font-weight="bold" text-anchor="end">40</text>
<line x1="372.5" y1="671.25" x2="376.5" y2="671.25" stroke="#000" stroke-width="1.2"/>
<text transform="translate(370,674.25) scale(1.0,1)" font-size="9" font-weight="bold" text-anchor="end">20</text>
<line x1="371.9" y1="686.9" x2="490.75" y2="686.9" stroke="#000" stroke-width="1.25"/>
<text transform="translate(352.8,643.4) rotate(-90)" font-size="9" font-weight="bold" text-anchor="middle" textLength="61.75" lengthAdjust="spacingAndGlyphs">Fold Induction</text>
<text transform="translate(393.25,617.5) scale(1.04,1)" font-size="10.2" font-weight="bold" text-anchor="start">T<tspan font-family="Liberation Serif, DejaVu Serif, serif" font-weight="normal" font-size="11.5">β</tspan>RI</text>
<rect x="373" y="685.5" width="17.5" height="1.25" fill="#000"/>
<rect x="398.25" y="671.75" width="16.0" height="15.0" fill="#000"/>
<line x1="406.5" y1="671.75" x2="406.5" y2="669.0" stroke="#000" stroke-width="1"/>
<line x1="403.5" y1="669.5" x2="409.5" y2="669.5" stroke="#000" stroke-width="1"/>
<rect x="425" y="667.5" width="15.75" height="19.25" fill="#000"/>
<line x1="432.5" y1="667.5" x2="432.5" y2="665.0" stroke="#000" stroke-width="1"/>
<line x1="429.5" y1="665.5" x2="435.5" y2="665.5" stroke="#000" stroke-width="1"/>
<rect x="450" y="605" width="16.25" height="81.75" fill="#000"/>
<line x1="459.3" y1="605" x2="459.3" y2="589.5" stroke="#000" stroke-width="1"/>
<line x1="457" y1="589.5" x2="461.6" y2="589.5" stroke="#000" stroke-width="1"/>
<text transform="translate(326.25,696.5) scale(1.0,1)" font-size="8.9" font-weight="bold" text-anchor="start">KLF6 (<tspan font-weight="normal">µ</tspan>g)</text>
<text transform="translate(326.25,707.5) scale(1.0,1)" font-size="8.9" font-weight="bold" text-anchor="start">Sp1</text>
<text transform="translate(350.5,707.5) scale(1.0,1)" font-size="8.9" font-weight="bold" text-anchor="start">(<tspan font-weight="normal">µ</tspan>g)</text>
<text transform="translate(382.5,696.4) scale(1.0,1)" font-size="8.9" font-weight="bold" text-anchor="middle">0</text>
<text transform="translate(382.5,707.5) scale(1.0,1)" font-size="8.9" font-weight="bold" text-anchor="middle">0</text>
<text transform="translate(406.75,696.4) scale(1.0,1)" font-size="8.9" font-weight="bold" text-anchor="middle">1</text>
<text transform="translate(406.75,707.5) scale(1.0,1)" font-size="8.9" font-weight="bold" text-anchor="middle">0</text>
<text transform="translate(434,696.4) scale(1.0,1)" font-size="8.9" font-weight="bold" text-anchor="middle">0</text>
<text transform="translate(433,707.5) scale(1.0,1)" font-size="8.9" font-weight="bold" text-anchor="middle">1</text>
<text transform="translate(459,696.4) scale(1.0,1)" font-size="8.9" font-weight="bold" text-anchor="middle">0.2</text>
<text transform="translate(458,707.5) scale(1.0,1)" font-size="8.9" font-weight="bold" text-anchor="middle">1</text>
<text transform="translate(319,758.9) scale(1.0,1)" font-size="24" font-weight="bold" text-anchor="start">H</text>
<line x1="371.3" y1="750.0" x2="371.3" y2="830" stroke="#000" stroke-width="1.05"/>
<line x1="371.5" y1="750.5" x2="375.5" y2="750.5" stroke="#000" stroke-width="1.2"/>
<text transform="translate(367,753.5) scale(1.0,1)" font-size="9" font-weight="bold" text-anchor="end">100</text>
<line x1="371.5" y1="766.75" x2="375.5" y2="766.75" stroke="#000" stroke-width="1.2"/>
<text transform="translate(367,769.75) scale(1.0,1)" font-size="9" font-weight="bold" text-anchor="end">80</text>
<line x1="371.5" y1="782.5" x2="375.5" y2="782.5" stroke="#000" stroke-width="1.2"/>
<text transform="translate(367,785.5) scale(1.0,1)" font-size="9" font-weight="bold" text-anchor="end">60</text>
<line x1="371.5" y1="798.25" x2="375.5" y2="798.25" stroke="#000" stroke-width="1.2"/>
<text transform="translate(367,801.25) scale(1.0,1)" font-size="9" font-weight="bold" text-anchor="end">40</text>
<line x1="371.5" y1="814.25" x2="375.5" y2="814.25" stroke="#000" stroke-width="1.2"/>
<text transform="translate(367,817.25) scale(1.0,1)" font-size="9" font-weight="bold" text-anchor="end">20</text>
<line x1="370.9" y1="830.2" x2="515" y2="830.2" stroke="#000" stroke-width="1.25"/>
<text transform="translate(346.5,783.7) rotate(-90)" font-size="9" font-weight="bold" text-anchor="middle" textLength="61.5" lengthAdjust="spacingAndGlyphs">Fold Induction</text>
<text x="374.6" y="748" font-size="10.2" font-weight="bold" text-anchor="start" textLength="43" lengthAdjust="spacingAndGlyphs">Collagen</text>
<text x="420.6" y="748" font-size="10.8"  text-anchor="start" textLength="7.4" lengthAdjust="spacingAndGlyphs">α</text>
<text x="428.6" y="748" font-size="10" font-weight="bold" text-anchor="start" textLength="13.8" lengthAdjust="spacingAndGlyphs">1(I)</text>
<rect x="376.25" y="828.75" width="15.0" height="1.25" fill="#000"/>
<line x1="383.5" y1="828.75" x2="383.5" y2="828.0" stroke="#000" stroke-width="1"/>
<line x1="382.25" y1="828.5" x2="384.75" y2="828.5" stroke="#000" stroke-width="1"/>
<rect x="397.5" y="829" width="15.0" height="1" fill="#000"/>
<line x1="405.5" y1="829" x2="405.5" y2="828.0" stroke="#000" stroke-width="1"/>
<line x1="404.25" y1="828.5" x2="406.75" y2="828.5" stroke="#000" stroke-width="1"/>
<rect x="419" y="821.25" width="15.75" height="8.75" fill="#000"/>
<line x1="426.5" y1="821.25" x2="426.5" y2="811.0" stroke="#000" stroke-width="1"/>
<line x1="423.5" y1="811.5" x2="429.5" y2="811.5" stroke="#000" stroke-width="1"/>
<rect x="440.75" y="758.25" width="15.5" height="71.75" fill="#000"/>
<line x1="448.5" y1="758.25" x2="448.5" y2="748.0" stroke="#000" stroke-width="1"/>
<line x1="446.0" y1="748.5" x2="451.0" y2="748.5" stroke="#000" stroke-width="1"/>
<rect x="462" y="760" width="16" height="70" fill="#000"/>
<line x1="470.5" y1="760" x2="470.5" y2="749.0" stroke="#000" stroke-width="1"/>
<line x1="467.75" y1="749.5" x2="473.25" y2="749.5" stroke="#000" stroke-width="1"/>
<rect x="483.25" y="800" width="16.0" height="30" fill="#000"/>
<line x1="491.5" y1="800" x2="491.5" y2="792.0" stroke="#000" stroke-width="1"/>
<line x1="488.85" y1="792.5" x2="494.15" y2="792.5" stroke="#000" stroke-width="1"/>
<text transform="translate(364.4,842) scale(1.0,1)" font-size="9.1" font-weight="bold" text-anchor="end">KLF6 (<tspan font-weight="normal">µ</tspan>g)</text>
<text transform="translate(364.4,854.6) scale(1.0,1)" font-size="9.1" font-weight="bold" text-anchor="end">Sp1 (<tspan font-weight="normal">µ</tspan>g)</text>
<text transform="translate(383.75,842.5) scale(1.0,1)" font-size="8.9" font-weight="bold" text-anchor="middle">0</text>
<text transform="translate(383.75,855) scale(1.0,1)" font-size="8.9" font-weight="bold" text-anchor="middle">0</text>
<text transform="translate(404.75,842.5) scale(1.0,1)" font-size="8.9" font-weight="bold" text-anchor="middle">1</text>
<text transform="translate(404.75,855) scale(1.0,1)" font-size="8.9" font-weight="bold" text-anchor="middle">0</text>
<text transform="translate(425,842.5) scale(1.0,1)" font-size="8.9" font-weight="bold" text-anchor="middle">0</text>
<text transform="translate(425,855) scale(1.0,1)" font-size="8.9" font-weight="bold" text-anchor="middle">1</text>
<text transform="translate(446.5,842.5) scale(1.0,1)" font-size="8.9" font-weight="bold" text-anchor="middle">0.2</text>
<text transform="translate(446.5,855) scale(1.0,1)" font-size="8.9" font-weight="bold" text-anchor="middle">1</text>
<text transform="translate(468.75,842.5) scale(1.0,1)" font-size="8.9" font-weight="bold" text-anchor="middle">0.5</text>
<text transform="translate(468.75,855) scale(1.0,1)" font-size="8.9" font-weight="bold" text-anchor="middle">1</text>
<text transform="translate(488.75,842.5) scale(1.0,1)" font-size="8.9" font-weight="bold" text-anchor="middle">1</text>
<text transform="translate(488.75,855) scale(1.0,1)" font-size="8.9" font-weight="bold" text-anchor="middle">1</text>
</svg>
</body></html>
